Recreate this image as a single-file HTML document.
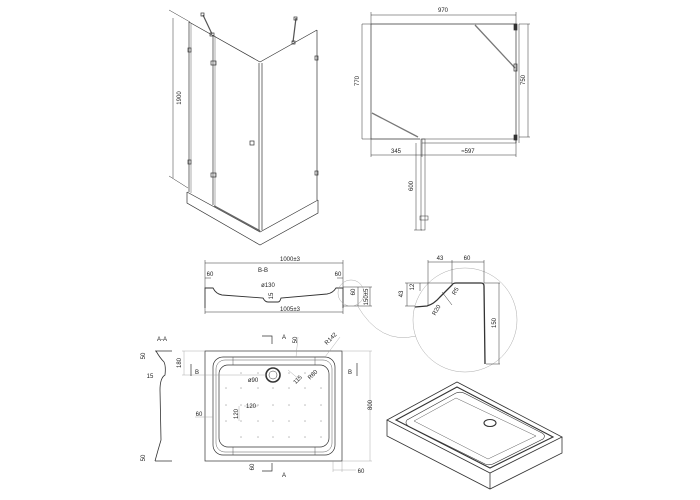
<!DOCTYPE html>
<html><head><style>
html,body{margin:0;padding:0;background:#fff;}
svg{display:block;}
text{font-family:"Liberation Sans",sans-serif;font-size:6px;fill:#222;}
</style></head><body>
<svg width="700" height="500" viewBox="0 0 700 500" xmlns="http://www.w3.org/2000/svg">
<g fill="none" stroke="#333" stroke-width="0.7">
<!-- ===== Cabin iso ===== -->
<line x1="173" y1="18" x2="173" y2="178" stroke-width="0.5"/>
<line x1="169" y1="10" x2="190" y2="22" stroke-width="0.5"/>
<line x1="169" y1="176" x2="188" y2="188" stroke-width="0.5"/>
<line x1="189" y1="22" x2="189" y2="192"/>
<line x1="191" y1="23" x2="191" y2="193" stroke-width="0.4"/>
<line x1="213" y1="35" x2="213" y2="205"/>
<line x1="215" y1="36" x2="215" y2="206" stroke-width="0.4"/>
<line x1="189" y1="22" x2="260" y2="62"/>
<line x1="260" y1="62" x2="317" y2="30"/>
<line x1="259" y1="63" x2="259" y2="230"/>
<line x1="262" y1="63" x2="262" y2="230"/>
<line x1="317" y1="30" x2="317" y2="200"/>
<!-- base -->
<path d="M187 192 L187 203 L260 245 L318 213 L318 200"/>
<path d="M187 192 L260 232 L318 200"/>
<path d="M214 206 L260 231" stroke-width="1.6" stroke="#666"/>
<!-- rods -->
<line x1="203" y1="15" x2="212" y2="34" stroke-width="1.2" stroke="#555"/>
<line x1="296" y1="18" x2="293" y2="42" stroke-width="1.2" stroke="#555"/>
<rect x="201" y="13" width="3" height="3"/><rect x="294" y="17" width="3" height="3"/>
<rect x="210" y="33" width="4" height="3"/><rect x="292" y="41" width="3" height="3"/>
<!-- hinges -->
<rect x="188" y="48" width="3" height="4"/><rect x="188" y="160" width="3" height="4"/>
<rect x="211" y="61" width="5" height="4"/><rect x="211" y="173" width="5" height="4"/>
<rect x="250" y="141" width="4" height="4"/>
<rect x="315" y="56" width="3" height="4"/><rect x="315" y="171" width="3" height="4"/>

<!-- ===== Plan top right ===== -->
<line x1="371" y1="24" x2="516" y2="24"/>
<line x1="371" y1="24" x2="371" y2="139"/>
<line x1="516" y1="24" x2="516" y2="143"/>
<line x1="519" y1="24" x2="519" y2="143" stroke-width="0.5"/>
<line x1="371" y1="139" x2="420" y2="139"/>
<rect x="422" y="139" width="94" height="4" stroke-width="0.5"/>
<rect x="421" y="139" width="4" height="91" stroke-width="0.5"/>
<rect x="420" y="216" width="8" height="4" stroke-width="0.5"/>
<line x1="475" y1="25" x2="515" y2="68" stroke-width="1.3" stroke="#777"/>
<line x1="372" y1="113" x2="418" y2="137" stroke-width="1.3" stroke="#777"/>
<rect x="514" y="64" width="3" height="7"/>
<rect x="514" y="24" width="3" height="6" fill="#333"/><rect x="514" y="135" width="3" height="5" fill="#333"/>
<g stroke-width="0.5">
<line x1="371" y1="15" x2="516" y2="15"/><line x1="371" y1="12" x2="371" y2="24"/><line x1="516" y1="12" x2="516" y2="24"/>
<line x1="362" y1="24" x2="362" y2="139"/><line x1="362" y1="24" x2="371" y2="24"/><line x1="362" y1="139" x2="371" y2="139"/>
<line x1="528" y1="24" x2="528" y2="137"/><line x1="519" y1="24" x2="530" y2="24"/><line x1="519" y1="137" x2="530" y2="137"/>
<line x1="371" y1="155" x2="516" y2="155"/><line x1="371" y1="139" x2="371" y2="157"/><line x1="422" y1="143" x2="422" y2="157"/><line x1="516" y1="143" x2="516" y2="157"/>
<line x1="416" y1="143" x2="416" y2="230"/><line x1="414" y1="230" x2="422" y2="230"/>
</g>

<!-- ===== Section B-B ===== -->
<g stroke-width="0.5">
<line x1="205" y1="263" x2="343" y2="263"/><line x1="205" y1="260" x2="205" y2="288"/><line x1="343" y1="260" x2="343" y2="288"/>
<line x1="205" y1="312" x2="343" y2="312"/><line x1="205" y1="308" x2="205" y2="314"/><line x1="343" y1="308" x2="343" y2="314"/>
<line x1="358" y1="287" x2="358" y2="306"/><line x1="343" y1="287" x2="372" y2="287"/><line x1="343" y1="306" x2="372" y2="306"/>
<line x1="370" y1="287" x2="370" y2="306"/>
<line x1="205" y1="278" x2="211" y2="278"/><line x1="337" y1="278" x2="343" y2="278"/>
</g>
<path d="M205 308 L205 288 L213 288 Q216 294 222 295 L263 298 Q265 302 268 302 L278 302 Q280 302 281 298 L327 294 Q333 293 336 288 L343 288 L343 308" stroke-width="0.9"/>
<circle cx="351" cy="293" r="13" stroke="#aaa" stroke-width="0.5"/>
<path d="M357 305 Q380 345 416 336" stroke="#aaa" stroke-width="0.5"/>
<!-- detail -->
<circle cx="465" cy="320" r="52" stroke="#aaa" stroke-width="0.5"/>
<path d="M415 307 L427 306 Q434 304 440 297 L452 285 Q453 283 456 283 L481 283 Q484 283 484 286 L485 364" stroke-width="1.3"/>
<g stroke-width="0.5">
<line x1="428" y1="262" x2="484" y2="262"/><line x1="428" y1="260" x2="428" y2="305"/><line x1="452" y1="260" x2="452" y2="284"/><line x1="484" y1="260" x2="484" y2="283"/>
<line x1="405" y1="283" x2="452" y2="283"/><line x1="405" y1="306" x2="415" y2="306"/><line x1="407" y1="283" x2="407" y2="306"/><line x1="420" y1="283" x2="420" y2="291"/>
<line x1="499" y1="283" x2="499" y2="364"/><line x1="484" y1="283" x2="500" y2="283"/><line x1="486" y1="364" x2="500" y2="364"/>
<line x1="442" y1="292" x2="452" y2="305"/>
</g>

<!-- ===== Plan tray ===== -->
<rect x="205" y="351" width="137" height="110"/>
<rect x="213" y="357" width="122" height="98" rx="10"/>
<rect x="216" y="360" width="116" height="92" rx="9" stroke-width="0.4"/>
<rect x="219" y="365" width="110" height="82" rx="9"/>
<line x1="233" y1="357" x2="233" y2="365" stroke-width="0.4"/><line x1="315" y1="357" x2="315" y2="365" stroke-width="0.4"/>
<line x1="233" y1="447" x2="233" y2="455" stroke-width="0.4"/><line x1="315" y1="447" x2="315" y2="455" stroke-width="0.4"/>
<circle cx="273" cy="375" r="7" stroke-width="1.6"/>
<circle cx="273" cy="375" r="4" stroke-width="0.5"/>
<g stroke-width="0.4" stroke="#999">
<line x1="182" y1="351" x2="205" y2="351"/><line x1="182" y1="375" x2="266" y2="375"/><line x1="184" y1="351" x2="184" y2="375"/>
<line x1="342" y1="351" x2="372" y2="351"/><line x1="342" y1="461" x2="372" y2="461"/><line x1="370" y1="351" x2="370" y2="461"/>
<line x1="333" y1="461" x2="333" y2="472"/><line x1="342" y1="461" x2="342" y2="472"/><line x1="333" y1="470" x2="356" y2="470"/>
<line x1="195" y1="417" x2="213" y2="417"/>
<line x1="244" y1="406" x2="258" y2="406"/><line x1="239" y1="406" x2="239" y2="421"/>
<line x1="298" y1="337" x2="296" y2="357"/><line x1="325" y1="357" x2="340" y2="337"/>
<line x1="288" y1="370" x2="300" y2="380"/>
</g>
<!-- section arrows -->
<g stroke-width="0.7">
<path d="M262 336 L272 336 L272 344"/><path d="M262 471 L272 471 L272 463"/>
<path d="M191 376 L191 364"/><path d="M357 376 L357 363"/>
</g>
<!-- A-A profile -->
<path d="M155 351 L172 351 M155 461 L172 461 M156 351 Q160 358 164 362 Q166 366 165 375 Q160 378 160 390 L161 440 Q158 450 155 461" stroke-width="0.8"/>
</g>
<!-- dots -->
<g fill="#bbb">
<circle cx="241" cy="373" r="0.8"/><circle cx="258" cy="373" r="0.8"/><circle cx="289" cy="373" r="0.8"/><circle cx="305" cy="373" r="0.8"/>
<circle cx="226" cy="388" r="0.8"/><circle cx="241" cy="388" r="0.8"/><circle cx="258" cy="388" r="0.8"/><circle cx="273" cy="388" r="0.8"/><circle cx="289" cy="388" r="0.8"/><circle cx="305" cy="388" r="0.8"/><circle cx="321" cy="388" r="0.8"/>
<circle cx="226" cy="405" r="0.8"/><circle cx="241" cy="405" r="0.8"/><circle cx="258" cy="405" r="0.8"/><circle cx="273" cy="405" r="0.8"/><circle cx="289" cy="405" r="0.8"/><circle cx="305" cy="405" r="0.8"/><circle cx="321" cy="405" r="0.8"/>
<circle cx="226" cy="421" r="0.8"/><circle cx="241" cy="421" r="0.8"/><circle cx="258" cy="421" r="0.8"/><circle cx="273" cy="421" r="0.8"/><circle cx="289" cy="421" r="0.8"/><circle cx="305" cy="421" r="0.8"/><circle cx="321" cy="421" r="0.8"/>
<circle cx="241" cy="437" r="0.8"/><circle cx="258" cy="437" r="0.8"/><circle cx="273" cy="437" r="0.8"/><circle cx="289" cy="437" r="0.8"/><circle cx="305" cy="437" r="0.8"/><circle cx="321" cy="437" r="0.8"/>
</g>
<!-- iso tray -->
<g fill="none" stroke="#333" stroke-width="0.8">
<path d="M457 382 L387 420 L490 473 L562 437 Z"/>
<path d="M387 420 L387 436 L490 489 L562 453 L562 437"/>
<line x1="490" y1="473" x2="490" y2="489"/>
<path d="M457 387 L396 420 L490 468 L553 437 Z" stroke-width="1.1"/>
<path d="M456 393 L407 420 Q404 424 410 427 L485 464 Q490 466 495 463 L543 439 Q547 435 540 432 L466 394 Q461 391 456 393 Z" stroke-width="0.6"/>
<path d="M456 398 L414 421 L488 459 L536 436 Z" stroke-width="0.4"/>
<ellipse cx="490" cy="423" rx="6" ry="3.5" stroke-width="1.1"/>
</g>
<!-- text -->
<text x="181" y="98" transform="rotate(-90 181 98)" text-anchor="middle">1900</text>
<text x="443" y="12" text-anchor="middle">970</text>
<text x="359" y="81" transform="rotate(-90 359 81)" text-anchor="middle">770</text>
<text x="525" y="80" transform="rotate(-90 525 80)" text-anchor="middle">750</text>
<text x="396" y="153" text-anchor="middle">345</text>
<text x="468" y="153" text-anchor="middle">≈597</text>
<text x="413" y="186" transform="rotate(-90 413 186)" text-anchor="middle">600</text>
<text x="290" y="261" text-anchor="middle" font-size="5.5">1000±3</text>
<text x="263" y="272" text-anchor="middle" font-size="5.5">B-B</text>
<text x="210" y="276" text-anchor="middle" font-size="5.5">60</text>
<text x="338" y="276" text-anchor="middle" font-size="5.5">60</text>
<text x="268" y="287" text-anchor="middle" font-size="5.5">ø130</text>
<text x="273" y="296" transform="rotate(-90 273 296)" text-anchor="middle" font-size="4.5">15</text>
<text x="290" y="311" text-anchor="middle" font-size="5.5">1005±3</text>
<text x="355" y="292" transform="rotate(-90 355 292)" text-anchor="middle" font-size="5">60</text>
<text x="368" y="297" transform="rotate(-90 368 297)" text-anchor="middle" font-size="5">150±5</text>
<text x="440" y="260" text-anchor="middle" font-size="5">43</text>
<text x="467" y="260" text-anchor="middle" font-size="5">60</text>
<text x="414" y="287" transform="rotate(-90 414 287)" text-anchor="middle" font-size="5">12</text>
<text x="403" y="294" transform="rotate(-90 403 294)" text-anchor="middle" font-size="5">43</text>
<text x="457" y="292" transform="rotate(-60 457 292)" text-anchor="middle" font-size="5">R5</text>
<text x="438" y="311" transform="rotate(-60 438 311)" text-anchor="middle" font-size="5">R20</text>
<text x="496" y="323" transform="rotate(-90 496 323)" text-anchor="middle" font-size="5">150</text>
<text x="162" y="341" text-anchor="middle" font-size="5">A-A</text>
<text x="284" y="339" text-anchor="middle" font-size="5">A</text>
<text x="284" y="477" text-anchor="middle" font-size="5">A</text>
<text x="197" y="374" text-anchor="middle" font-size="5">B</text>
<text x="350" y="374" text-anchor="middle" font-size="5">B</text>
<text x="297" y="340" transform="rotate(-90 297 340)" text-anchor="middle" font-size="5">50</text>
<text x="332" y="340" transform="rotate(-45 332 340)" text-anchor="middle" font-size="5">R142</text>
<text x="181" y="363" transform="rotate(-90 181 363)" text-anchor="middle" font-size="5">180</text>
<text x="145" y="356" transform="rotate(-90 145 356)" text-anchor="middle" font-size="5">50</text>
<text x="145" y="458" transform="rotate(-90 145 458)" text-anchor="middle" font-size="5">50</text>
<text x="150" y="378" text-anchor="middle" font-size="4.5">15</text>
<text x="253" y="382" text-anchor="middle" font-size="5">ø90</text>
<text x="299" y="381" transform="rotate(-45 299 381)" text-anchor="middle" font-size="5">115</text>
<text x="314" y="376" transform="rotate(-45 314 376)" text-anchor="middle" font-size="5">R80</text>
<text x="199" y="416" text-anchor="middle" font-size="5">60</text>
<text x="251" y="408" text-anchor="middle" font-size="5">120</text>
<text x="238" y="414" transform="rotate(-90 238 414)" text-anchor="middle" font-size="5">120</text>
<text x="372" y="405" transform="rotate(-90 372 405)" text-anchor="middle" font-size="5">800</text>
<text x="254" y="467" transform="rotate(-90 254 467)" text-anchor="middle" font-size="5">60</text>
<text x="361" y="473" text-anchor="middle" font-size="5">60</text>
</svg>
</body></html>
